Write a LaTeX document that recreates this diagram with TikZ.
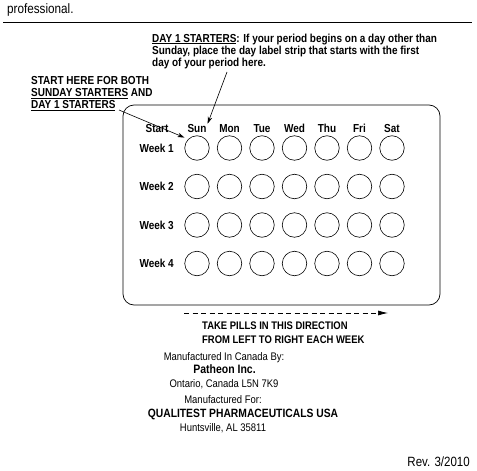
\documentclass[tikz,border=0pt]{standalone}
\usepackage{fontspec}
\setmainfont{Liberation Sans}[FakeStretch=0.86]
\usetikzlibrary{arrows.meta}
\begin{document}
\begin{tikzpicture}[x=1pt,y=-1pt,
  txt/.style={inner sep=0pt, font=\fontsize{11}{13.5}\selectfont},
  btxt/.style={inner sep=0pt, font=\fontsize{11.6}{12.2}\selectfont\bfseries, align=left},
  pill/.style={circle, draw, line width=0.6pt, minimum size=24.5pt, inner sep=0pt},
  lbl/.style={inner sep=0pt, font=\fontsize{11.6}{12}\selectfont\bfseries},
  pointer/.style={-{Stealth[length=7pt,width=4.5pt]}, line width=0.6pt},
]
\useasboundingbox (0,0) rectangle (477,471);
\node[txt, anchor=base west, font=\fontsize{13.6}{15}\selectfont] (prof) at (7,13) {professional.};
\coordinate (r1) at (3,22);
\coordinate (r2) at (472,22);
\draw[line width=1pt] (r1) -- (r2);

\node[btxt, anchor=north west] (day1) at (152,33.5)
  {\underline{DAY 1 STARTERS}: If your period begins on a day other than\\
   Sunday, place the day label strip that starts with the first\\
   day of your period here.};
\node[btxt, anchor=north west] (starthere) at (31,76)
  {START HERE FOR BOTH\\
   \underline{SUNDAY STARTERS} AND\\
   \underline{DAY 1 STARTERS}};

\draw[line width=0.7pt, rounded corners=11pt] (123,105) rectangle (440,305);

\node[lbl, anchor=base] (start) at (157,132) {Start};
\foreach \d [count=\c] in {Sun,Mon,Tue,Wed,Thu,Fri,Sat}{
  \node[lbl, anchor=base] (d\c) at ({197+32.5*(\c-1)},132) {\d};
}
\foreach \r in {1,2,3,4}{
  \node[lbl, anchor=base east] (w\r) at (174,{148+38.5*(\r-1)+4.1}) {Week \r};
  \foreach \c in {1,...,7}{
    \node[pill] (c\r\c) at ({197+32.5*(\c-1)},{148+38.5*(\r-1)}) {};
  }
}

\coordinate (a1) at (227,72);
\draw[pointer] (a1) -- ([xshift=1pt]d1.north east);
\coordinate (a2) at (119,110);
\draw[pointer, shorten >=4pt] (a2) -- (c11.north west);

\coordinate (p1) at (184,313);
\coordinate (p2) at (388,313);
\draw[line width=0.7pt, dash pattern=on 5pt off 3.5pt, -{Latex[length=10pt,width=5pt]}] (p1) -- (p2);
\node[inner sep=0pt, font=\fontsize{11}{14}\selectfont\bfseries, align=left, anchor=north west] (take) at (202,322)
  {TAKE PILLS IN THIS DIRECTION\\FROM LEFT TO RIGHT EACH WEEK};

\node[txt, anchor=base] (m1) at (224,360) {Manufactured In Canada By:};
\node[txt, anchor=base, font=\fontsize{12.2}{13}\selectfont\bfseries] (m2) at (224.5,373) {Patheon Inc.};
\node[txt, anchor=base] (m3) at (224,387) {Ontario, Canada L5N 7K9};
\node[txt, anchor=base] (m4) at (223,403) {Manufactured For:};
\node[txt, anchor=base, font=\fontsize{12}{13}\selectfont\bfseries] (m5) at (243,417) {QUALITEST PHARMACEUTICALS USA};
\node[txt, anchor=base] (m6) at (223,431) {Huntsville, AL 35811};
\node[txt, anchor=base east, font=\fontsize{13.4}{15}\selectfont] (rev) at (470,466) {Rev. 3/2010};
\end{tikzpicture}
\end{document}
